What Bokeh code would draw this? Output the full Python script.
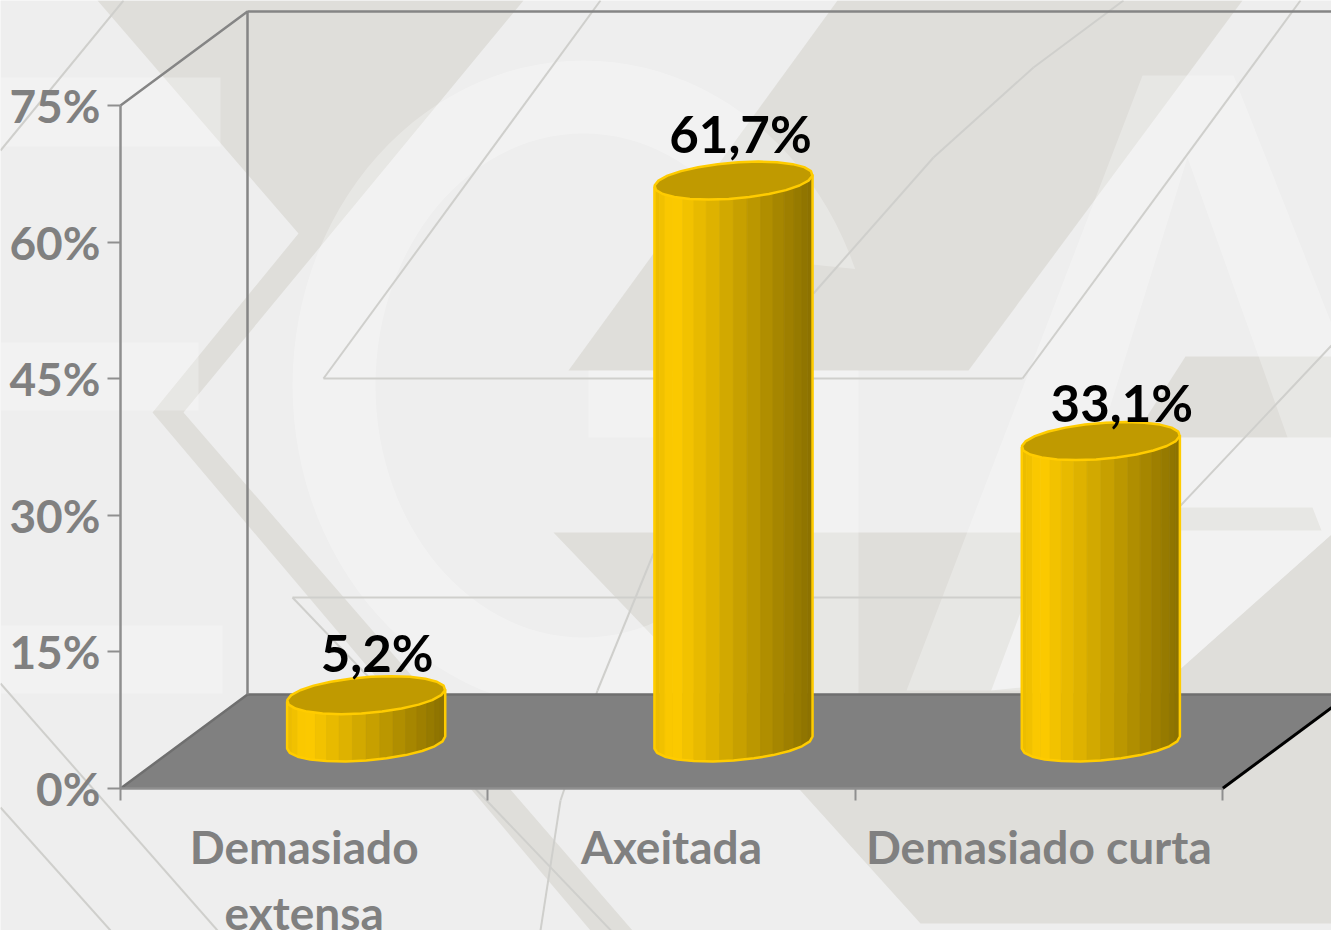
import math
from bokeh.core.properties import value
from bokeh.embed import file_html
from bokeh.models import (ColumnDataSource, FixedTicker, LinearAxis, PolyAnnotation, Range1d)
from bokeh.plotting import figure
from bokeh.resources import INLINE

# ---- chart data -----------------------------------------------------------
categories = ["Demasiado\nextensa", "Axeitada", "Demasiado curta"]
values = [5.2, 61.7, 33.1]
value_labels = ["5,2%", "61,7%", "33,1%"]
y_ticks = [0, 15, 30, 45, 60, 75]

# ---- geometry of the 3-D look (pixels of the picture) ---------------------
W, H = 1331, 930
X0_PX, CAT_PX = 120.0, 367.33     # x axis start, width of one category
Y0_PX, UNIT_PX = 788.0, 9.107     # y axis zero, pixels per percent
DEPTH_X, DEPTH_Y = 127.0, 94.0    # shift from front to back wall
CYL_X, CYL_Y = 62.0, 46.0         # shift of the cylinder's axis from the front
CYL_R, CYL_DX, CYL_DY = 75.0, 25.0, 19.0
LABEL_DX = [11, 7, 21]            # label offsets from cylinder axis
LABEL_DY = [43, 47, 39]

GREY = "#808080"
YELLOW = "#ffcc00"

x_range = Range1d(-X0_PX / CAT_PX, (W - X0_PX) / CAT_PX)
y_range = Range1d((Y0_PX - H) / UNIT_PX, Y0_PX / UNIT_PX)

p = figure(width=W, height=H, x_range=x_range, y_range=y_range,
           output_backend="svg", toolbar_location=None, min_border=0,
           background_fill_color="#eeeeee", border_fill_color="#eeeeee",
           outline_line_color=None)
p.grid.visible = False


# ---- decorative watermark behind the chart (canvas pixels) -----------------
def poly(points, fill=None, alpha=1.0, line=None, lw=1.0):
    p.add_layout(PolyAnnotation(
        xs=[a for a, _ in points], ys=[b for _, b in points],
        xs_units="canvas", ys_units="canvas", level="image",
        fill_color=fill, fill_alpha=alpha if fill else 0,
        line_color=line, line_alpha=1 if line else 0, line_width=lw,
        editable=False))


DARK, THIN = "#dfdeda", "#cfcfcc"
OVER = 0.27
# chevron
poly([(97, 0), (523, 0), (183, 412), (632, 930), (590, 930), (152, 412), (298, 233)], DARK)
# centre parallelogram
poly([(568, 370), (837, 0), (1242, 0), (968, 370)], DARK)
# lower right shapes
poly([(553, 532), (1050, 532), (990, 692), (990, 790), (800, 790)], DARK)
poly([(800, 790), (990, 690), (1176, 672), (1331, 534), (1331, 923), (920, 923)], DARK)
poly([(1185, 356), (1331, 356), (1331, 437), (1133, 437)], DARK)
poly([(1176, 507), (1312, 507), (1321, 530), (1176, 530)], DARK)
# pale bands at the left
for x1, y1, x2, y2 in [(0, 77, 220, 146), (0, 342, 198, 410), (0, 625, 222, 693)]:
    poly([(x1, y1), (x2, y1), (x2, y2), (x1, y2)], "white", OVER)
# pale letter A, with its counter
poly([(1142, 75), (906, 690), (1060, 690), (1176, 672), (1331, 534), (1331, 323), (1233, 75),
      (1142, 75), (1187, 157), (1287, 437), (1100, 437), (1187, 157), (1142, 75)], "white", OVER)


# pale letter G: outer oval, square corner, bar, inner oval
def oval(rx, ry, a0, a1, step):
    return [(583 + rx * math.cos(math.radians(a)), 385 - ry * math.sin(math.radians(a)))
            for a in range(a0, a1, step)]


g_outer = oval(291, 325, 21, 270, 3)
g_inner = oval(208, 252, 348 - 720 + 720, 28, -3)
poly(g_outer + [(583, 710), (858, 710), (858, 370), (588, 370), (588, 437)] + g_inner, "white", OVER)
# thin lines
for seg in [[(0, 150), (123, 0)], [(600, 0), (323, 378)], [(323, 378), (1022, 378)],
            [(1022, 378), (1300, 0)], [(0, 683), (217, 930)], [(0, 807), (110, 930)],
            [(1022, 597), (292, 597)], [(292, 597), (620, 940)], [(1331, 345), (1100, 590)],
            [(653, 553), (597, 690)], [(597, 690), (560, 800)], [(560, 800), (540, 930)],
            [(813, 293), (933, 157)], [(933, 157), (1033, 67)], [(1033, 67), (1123, 0)]]:
    poly(seg, line=THIN, lw=2)


# ---- helpers from picture-sized offsets to data units ----------------------
def dx(px):
    return px / CAT_PX


def dy(px):
    return px / UNIT_PX


# ---- floor and walls ---------------------------------------------------------
n_cat = len(categories)
ymax = y_ticks[-1]
floor_x = [0, dx(DEPTH_X), n_cat + dx(DEPTH_X), n_cat]
floor_y = [0, dy(DEPTH_Y), dy(DEPTH_Y), 0]
p.patch(floor_x, floor_y, fill_color=GREY, line_color=None)
p.line([0, dx(DEPTH_X), n_cat + dx(DEPTH_X)], [0, dy(DEPTH_Y), dy(DEPTH_Y)],
       line_color="#6f6f6f", line_width=2.5)
p.line([n_cat, n_cat + dx(DEPTH_X)], [0, dy(DEPTH_Y)], line_color="black", line_width=3)
p.line([0, dx(DEPTH_X), dx(DEPTH_X)], [ymax, ymax + dy(DEPTH_Y), dy(DEPTH_Y)],
       line_color="#858585", line_width=2.5)
p.line([dx(DEPTH_X), n_cat + dx(DEPTH_X)], [ymax + dy(DEPTH_Y)] * 2,
       line_color="#858585", line_width=2.5)


# ---- cylinders ------------------------------------------------------------
def rim(cat, val, deg):
    t = math.radians(deg)
    px = CYL_X + CYL_R * math.cos(t) + CYL_DX * math.sin(t)
    py = CYL_Y + CYL_DY * math.sin(t)
    return cat + 0.5 + dx(px), val + dy(py)


def shade(frac):
    lo, mid, hi = (232, 186, 0), (255, 204, 0), (138, 112, 0)
    if frac < 0.12:
        a, b, f = lo, mid, frac / 0.12
    else:
        a, b, f = mid, hi, (frac - 0.12) / 0.88
    return "#%02x%02x%02x" % tuple(round(a[i] + (b[i] - a[i]) * f) for i in range(3))


START = 180 + math.degrees(math.atan2(CYL_DX, CYL_R))
STEP = 10
strip_x, strip_y, strip_c = [], [], []
for i, val in enumerate(values):
    for k in range(18):
        a, b = START + k * STEP, START + (k + 1) * STEP
        xa, ya0 = rim(i, 0, a)
        xb, yb0 = rim(i, 0, b)
        _, ya1 = rim(i, val, a)
        _, yb1 = rim(i, val, b)
        strip_x.append([xa, xb, xb, xa])
        strip_y.append([ya0, yb0, yb1, ya1])
        left = rim(i, 0, START)[0]
        right = rim(i, 0, START + 180)[0]
        strip_c.append(shade(((xa + xb) / 2 - left) / (right - left)))
p.patches("x", "y", fill_color="c", line_color="c", line_width=0.8,
          source=ColumnDataSource(dict(x=strip_x, y=strip_y, c=strip_c)))

for i, val in enumerate(values):
    arc = [rim(i, 0, START + k * 15) for k in range(13)]
    top_l = rim(i, val, START)
    top_r = rim(i, val, START + 180)
    outline = [top_l] + arc + [top_r]
    p.line([a for a, _ in outline], [b for _, b in outline], line_color=YELLOW, line_width=2.5)
    cap = [rim(i, val, k * 15) for k in range(24)]
    p.patch([a for a, _ in cap], [b for _, b in cap], fill_color="#c09a00",
            line_color=YELLOW, line_width=2.5)

p.text(x=[i + 0.5 + dx(CYL_X + LABEL_DX[i]) for i in range(n_cat)],
       y=[values[i] + dy(CYL_Y + LABEL_DY[i]) for i in range(n_cat)],
       text=value_labels, text_align="center", text_baseline="middle",
       text_color="black", text_font=value("Lato"), text_font_style="bold",
       text_font_size="51px")

# ---- axes --------------------------------------------------------------------
AXIS = "#8f8f8f"
ya = p.yaxis[0]
ya.fixed_location = 0
ya.bounds = (0, ymax)
ya.ticker = FixedTicker(ticks=y_ticks)
ya.major_label_overrides = {t: f"{t}%" for t in y_ticks}
ya.major_tick_out, ya.major_tick_in = 13, 0
ya.minor_tick_out = ya.minor_tick_in = 0
ya.major_label_standoff = 7
ya.axis_line_color = AXIS
ya.axis_line_width = 2.5
ya.major_tick_line_color = AXIS
ya.major_tick_line_width = 2
ya.major_label_text_color = GREY
ya.major_label_text_font = "Lato"
ya.major_label_text_font_style = "bold"
ya.major_label_text_font_size = "46px"

xa_ = p.xaxis[0]
xa_.fixed_location = 0
xa_.bounds = (0, n_cat)
xa_.ticker = FixedTicker(ticks=list(range(n_cat + 1)))
xa_.major_label_overrides = {t: "" for t in range(n_cat + 1)}
xa_.major_tick_out, xa_.major_tick_in = 12, 0
xa_.minor_tick_out = xa_.minor_tick_in = 0
xa_.axis_line_color = AXIS
xa_.axis_line_width = 2.5
xa_.major_tick_line_color = AXIS
xa_.major_tick_line_width = 2

cat_ticks = [i + 0.5 for i in range(n_cat)]
cat_axis = LinearAxis(fixed_location=0, ticker=FixedTicker(ticks=cat_ticks),
                      major_label_overrides=dict(zip(cat_ticks, categories)))
cat_axis.axis_line_color = None
cat_axis.major_tick_line_color = None
cat_axis.minor_tick_line_color = None
cat_axis.major_tick_out = 0
cat_axis.major_label_standoff = 30
cat_axis.major_label_text_color = GREY
cat_axis.major_label_text_font = "Lato"
cat_axis.major_label_text_font_style = "bold"
cat_axis.major_label_text_font_size = "46px"
p.add_layout(cat_axis, "below")

open("out.html", "w").write(file_html(p, INLINE))
